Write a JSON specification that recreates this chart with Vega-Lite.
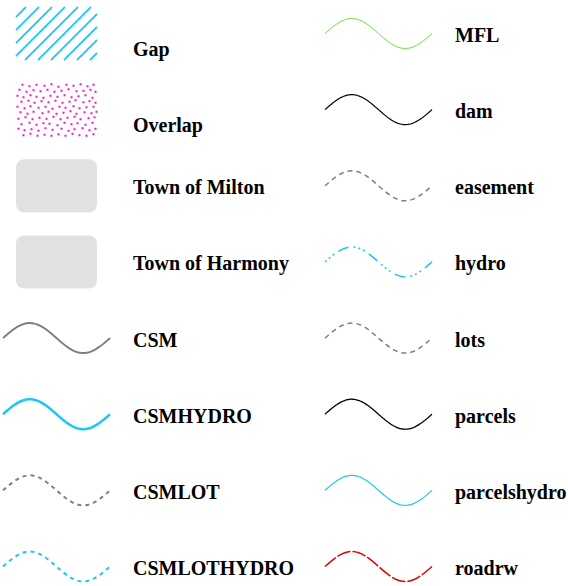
{
  "$schema": "https://vega.github.io/schema/vega-lite/v6.json",
  "width": 568,
  "height": 586,
  "autosize": {"type": "none"},
  "padding": 0,
  "background": "white",
  "config": {"view": {"stroke": null}},
  "resolve": {"scale": {"shape": "independent", "fill": "independent", "stroke": "independent", "strokeDash": "independent", "strokeWidth": "independent"}},
  "data": {
    "values": [
      {"label": "Gap", "col": 0, "row": 0, "kind": "line"},
      {"label": "Overlap", "col": 0, "row": 1, "kind": "fill"},
      {"label": "Town of Milton", "col": 0, "row": 2, "kind": "fill"},
      {"label": "Town of Harmony", "col": 0, "row": 3, "kind": "fill"},
      {"label": "CSM", "col": 0, "row": 4, "kind": "line"},
      {"label": "CSMHYDRO", "col": 0, "row": 5, "kind": "line"},
      {"label": "CSMLOT", "col": 0, "row": 6, "kind": "line"},
      {"label": "CSMLOTHYDRO", "col": 0, "row": 7, "kind": "line"},
      {"label": "MFL", "col": 1, "row": 0, "kind": "line"},
      {"label": "dam", "col": 1, "row": 1, "kind": "line"},
      {"label": "easement", "col": 1, "row": 2, "kind": "line"},
      {"label": "hydro", "col": 1, "row": 3, "kind": "line"},
      {"label": "lots", "col": 1, "row": 4, "kind": "line"},
      {"label": "parcels", "col": 1, "row": 5, "kind": "line"},
      {"label": "parcelshydro", "col": 1, "row": 6, "kind": "line"},
      {"label": "roadrw", "col": 1, "row": 7, "kind": "line"}
    ]
  },
  "encoding": {
    "x": {"field": "col", "type": "quantitative", "scale": {"domain": [0, 1], "range": [56.5, 378.5], "nice": false, "zero": false}, "axis": null},
    "y": {"field": "row", "type": "quantitative", "scale": {"domain": [0, 7], "range": [33.5, 566.5], "nice": false, "zero": false}, "axis": null}
  },
  "layer": [
    {
      "transform": [{"filter": "datum.kind === 'fill'"}],
      "mark": {"type": "point", "filled": true, "size": 4, "opacity": 1, "strokeWidth": 0},
      "encoding": {
        "shape": {
          "field": "label", "type": "nominal", "legend": null,
          "scale": {
            "domain": ["Overlap", "Town of Milton", "Town of Harmony"],
            "range": [
              "M-35,-26h2v2h-2zM-28,-24.5h2v2h-2zM-21,-26h2v2h-2zM-13,-25h2v2h-2zM-6,-26.5h2v2h-2zM1,-24h2v2h-2zM9,-26h2v2h-2zM16,-25h2v2h-2zM23,-26.5h2v2h-2zM30,-24.5h2v2h-2zM36,-26h2v2h-2zM-38,-21h2v2h-2zM-31,-19h2v2h-2zM-24,-20.5h2v2h-2zM-17,-19.5h2v2h-2zM-10,-21h2v2h-2zM-3,-19h2v2h-2zM4,-20h2v2h-2zM11,-21.5h2v2h-2zM19,-19.5h2v2h-2zM26,-20h2v2h-2zM33,-21h2v2h-2zM38,-19h2v2h-2zM-40,-15h2v2h-2zM-34,-13.5h2v2h-2zM-27,-15.5h2v2h-2zM-21,-14h2v2h-2zM-14,-13h2v2h-2zM-7,-15h2v2h-2zM0,-14h2v2h-2zM7,-15.5h2v2h-2zM14,-13.5h2v2h-2zM21,-14.5h2v2h-2zM28,-15.5h2v2h-2zM35,-13h2v2h-2zM-36,-9h2v2h-2zM-29,-10h2v2h-2zM-23,-8h2v2h-2zM-16,-9.5h2v2h-2zM-9,-8.5h2v2h-2zM-2,-10h2v2h-2zM5,-8h2v2h-2zM12,-9h2v2h-2zM18,-10.5h2v2h-2zM26,-8.5h2v2h-2zM32,-9.5h2v2h-2zM38,-8h2v2h-2zM-40,-4h2v2h-2zM-33,-2.5h2v2h-2zM-27,-4.5h2v2h-2zM-19,-3h2v2h-2zM-12,-4h2v2h-2zM-5,-2h2v2h-2zM2,-4h2v2h-2zM8,-3h2v2h-2zM16,-4.5h2v2h-2zM22,-2.5h2v2h-2zM29,-3.5h2v2h-2zM36,-4h2v2h-2zM-37,1.5h2v2h-2zM-30,3h2v2h-2zM-24,1h2v2h-2zM-15,2.5h2v2h-2zM-9,1h2v2h-2zM-1,3h2v2h-2zM6,2h2v2h-2zM13,0.5h2v2h-2zM19,3h2v2h-2zM27,1.5h2v2h-2zM34,2.5h2v2h-2zM39,1h2v2h-2zM-39,8h2v2h-2zM-32,6.5h2v2h-2zM-25,8.5h2v2h-2zM-18,7h2v2h-2zM-11,8h2v2h-2zM-4,6h2v2h-2zM3,8.5h2v2h-2zM10,7h2v2h-2zM17,6h2v2h-2zM23,8.5h2v2h-2zM31,7.5h2v2h-2zM37,6.5h2v2h-2zM-36,13.5h2v2h-2zM-28,12h2v2h-2zM-21,14h2v2h-2zM-14,12.5h2v2h-2zM-8,13h2v2h-2zM0,14.5h2v2h-2zM7,12h2v2h-2zM14,13.5h2v2h-2zM20,12.5h2v2h-2zM28,14h2v2h-2zM35,12h2v2h-2zM-39,18h2v2h-2zM-33,19.5h2v2h-2zM-26,18.5h2v2h-2zM-19,20h2v2h-2zM-12,17.5h2v2h-2zM-5,19h2v2h-2zM4,18h2v2h-2zM11,20h2v2h-2zM17,18.5h2v2h-2zM25,17.5h2v2h-2zM32,19.5h2v2h-2zM38,18h2v2h-2zM-34,24.5h2v2h-2zM-27,23h2v2h-2zM-20,25h2v2h-2zM-13,24h2v2h-2zM-6,25h2v2h-2zM1,23.5h2v2h-2zM8,25h2v2h-2zM15,23h2v2h-2zM22,24.5h2v2h-2zM29,25h2v2h-2zM36,23.5h2v2h-2z",
              "M-32.5,-26.5L32.5,-26.5C36.9,-26.5,40.5,-22.9,40.5,-18.5L40.5,18.5C40.5,22.9,36.9,26.5,32.5,26.5L-32.5,26.5C-36.9,26.5,-40.5,22.9,-40.5,18.5L-40.5,-18.5C-40.5,-22.9,-36.9,-26.5,-32.5,-26.5Z",
              "M-32.5,-26.5L32.5,-26.5C36.9,-26.5,40.5,-22.9,40.5,-18.5L40.5,18.5C40.5,22.9,36.9,26.5,32.5,26.5L-32.5,26.5C-36.9,26.5,-40.5,22.9,-40.5,18.5L-40.5,-18.5C-40.5,-22.9,-36.9,-26.5,-32.5,-26.5Z"
            ]
          }
        },
        "fill": {
          "field": "label", "type": "nominal", "legend": null,
          "scale": {"domain": ["Overlap", "Town of Milton", "Town of Harmony"], "range": ["#f014d0", "#e1e1e1", "#e1e1e1"]}
        }
      }
    },
    {
      "transform": [{"filter": "datum.kind === 'line'"}],
      "mark": {"type": "point", "filled": false, "size": 4, "opacity": 1},
      "encoding": {
        "shape": {
          "field": "label", "type": "nominal", "legend": null,
          "scale": {
            "domain": ["Gap", "CSM", "CSMHYDRO", "CSMLOT", "CSMLOTHYDRO", "MFL", "dam", "easement", "hydro", "lots", "parcels", "parcelshydro", "roadrw"],
            "range": [
              "M-40.5,-16.5L-30.5,-26.5M-40.5,-3.5L-17.5,-26.5M-40.5,9.5L-4.5,-26.5M-40.5,22.5L8.5,-26.5M-31.5,26.5L21.5,-26.5M-18.5,26.5L34.5,-26.5M-5.5,26.5L40.5,-19.5M7.5,26.5L40.5,-6.5M20.5,26.5L40.5,6.5M33.5,26.5L40.5,19.5",
              "M-53.5,0C-44.78,-7.68,-36.43,-15,-26.75,-15C-17.07,-15,-8.72,-7.68,0,0C8.72,7.68,17.07,15,26.75,15C36.43,15,44.78,7.68,53.5,0",
              "M-53.5,0C-44.78,-7.68,-36.43,-15,-26.75,-15C-17.07,-15,-8.72,-7.68,0,0C8.72,7.68,17.07,15,26.75,15C36.43,15,44.78,7.68,53.5,0",
              "M-53.5,0C-44.78,-7.68,-36.43,-15,-26.75,-15C-17.07,-15,-8.72,-7.68,0,0C8.72,7.68,17.07,15,26.75,15C36.43,15,44.78,7.68,53.5,0",
              "M-53.5,0C-44.78,-7.68,-36.43,-15,-26.75,-15C-17.07,-15,-8.72,-7.68,0,0C8.72,7.68,17.07,15,26.75,15C36.43,15,44.78,7.68,53.5,0",
              "M-53.5,0C-44.78,-7.68,-36.43,-15,-26.75,-15C-17.07,-15,-8.72,-7.68,0,0C8.72,7.68,17.07,15,26.75,15C36.43,15,44.78,7.68,53.5,0",
              "M-53.5,0C-44.78,-7.68,-36.43,-15,-26.75,-15C-17.07,-15,-8.72,-7.68,0,0C8.72,7.68,17.07,15,26.75,15C36.43,15,44.78,7.68,53.5,0",
              "M-53.5,0C-44.78,-7.68,-36.43,-15,-26.75,-15C-17.07,-15,-8.72,-7.68,0,0C8.72,7.68,17.07,15,26.75,15C36.43,15,44.78,7.68,53.5,0",
              "M-53.5,0C-44.78,-7.68,-36.43,-15,-26.75,-15C-17.07,-15,-8.72,-7.68,0,0C8.72,7.68,17.07,15,26.75,15C36.43,15,44.78,7.68,53.5,0",
              "M-53.5,0C-44.78,-7.68,-36.43,-15,-26.75,-15C-17.07,-15,-8.72,-7.68,0,0C8.72,7.68,17.07,15,26.75,15C36.43,15,44.78,7.68,53.5,0",
              "M-53.5,0C-44.78,-7.68,-36.43,-15,-26.75,-15C-17.07,-15,-8.72,-7.68,0,0C8.72,7.68,17.07,15,26.75,15C36.43,15,44.78,7.68,53.5,0",
              "M-53.5,0C-44.78,-7.68,-36.43,-15,-26.75,-15C-17.07,-15,-8.72,-7.68,0,0C8.72,7.68,17.07,15,26.75,15C36.43,15,44.78,7.68,53.5,0",
              "M-53.5,0C-44.78,-7.68,-36.43,-15,-26.75,-15C-17.07,-15,-8.72,-7.68,0,0C8.72,7.68,17.07,15,26.75,15C36.43,15,44.78,7.68,53.5,0"
            ]
          }
        },
        "stroke": {
          "field": "label", "type": "nominal", "legend": null,
          "scale": {
            "domain": ["Gap", "CSM", "CSMHYDRO", "CSMLOT", "CSMLOTHYDRO", "MFL", "dam", "easement", "hydro", "lots", "parcels", "parcelshydro", "roadrw"],
            "range": ["#1ec6f6", "#808080", "#1ec6f6", "#808080", "#1ec6f6", "#5fdc28", "#000000", "#808080", "#1ec6f6", "#808080", "#000000", "#1ec6f6", "#e00000"]
          }
        },
        "strokeDash": {
          "field": "label", "type": "nominal", "legend": null,
          "scale": {
            "domain": ["Gap", "CSM", "CSMHYDRO", "CSMLOT", "CSMLOTHYDRO", "MFL", "dam", "easement", "hydro", "lots", "parcels", "parcelshydro", "roadrw"],
            "range": [[1, 0], [1, 0], [1, 0], [4, 4], [4, 4], [1, 0], [1, 0], [5, 4], [2, 3, 2, 3, 2, 5, 11, 5], [5, 4], [1, 0], [1, 0], [14, 2]]
          }
        },
        "strokeWidth": {
          "field": "label", "type": "nominal", "legend": null,
          "scale": {
            "type": "ordinal",
            "domain": ["Gap", "CSM", "CSMHYDRO", "CSMLOT", "CSMLOTHYDRO", "MFL", "dam", "easement", "hydro", "lots", "parcels", "parcelshydro", "roadrw"],
            "range": [1.8, 2, 2.5, 2, 2, 1, 1.2, 1.5, 1.5, 1.5, 1.3, 1.2, 1.5]
          }
        }
      }
    },
    {
      "transform": [{"filter": "datum.label !== 'Gap' && datum.label !== 'Overlap'"}],
      "mark": {"type": "text", "align": "left", "baseline": "alphabetic", "dx": 76.5, "dy": 8.5, "font": "Liberation Serif", "fontWeight": "bold", "fontSize": 20, "color": "#000000"},
      "encoding": {"text": {"field": "label", "type": "nominal"}}
    },
    {
      "transform": [{"filter": "datum.label === 'Gap' || datum.label === 'Overlap'"}],
      "mark": {"type": "text", "align": "left", "baseline": "alphabetic", "dx": 76.5, "dy": 22, "font": "Liberation Serif", "fontWeight": "bold", "fontSize": 20, "color": "#000000"},
      "encoding": {"text": {"field": "label", "type": "nominal"}}
    }
  ]
}
